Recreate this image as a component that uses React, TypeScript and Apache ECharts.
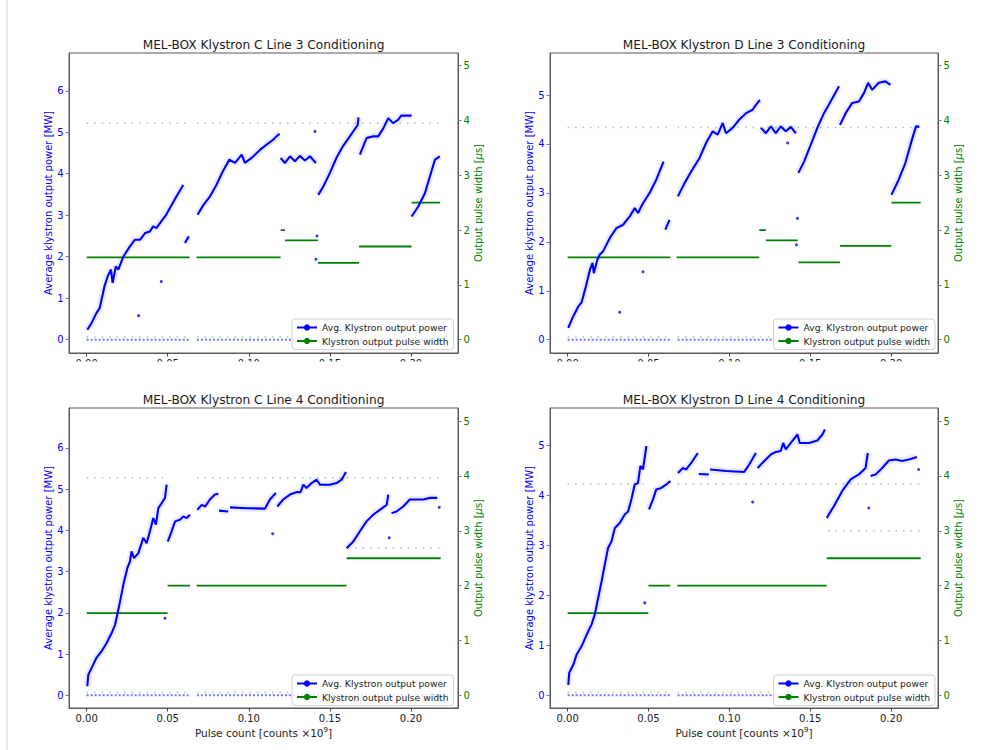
import React, { useEffect, useRef } from "react";
import * as echarts from "echarts";

type Pt = [number, number];
type Step = [number, number, number];

// ---------- data ----------
const xTicks = [0, 0.05, 0.1, 0.15, 0.2];
const powerTicksC = [0, 1, 2, 3, 4, 5, 6];
const powerTicksD = [0, 1, 2, 3, 4, 5];
const widthTicks = [0, 1, 2, 3, 4, 5];

const titles = [
  "MEL-BOX Klystron C Line 3 Conditioning",
  "MEL-BOX Klystron D Line 3 Conditioning",
  "MEL-BOX Klystron C Line 4 Conditioning",
  "MEL-BOX Klystron D Line 4 Conditioning",
];

const c3Power: Pt[][] = [
  [[0.0004, 0.24], [0.003, 0.4], [0.006, 0.64], [0.008, 0.76], [0.011, 1.29], [0.013, 1.53], [0.015, 1.69], [0.016, 1.37], [0.018, 1.77], [0.0195, 1.69], [0.0226, 2.0], [0.0267, 2.25], [0.0298, 2.41], [0.033, 2.41], [0.036, 2.57], [0.039, 2.61], [0.041, 2.73], [0.043, 2.69], [0.046, 2.85], [0.049, 3.01], [0.053, 3.29], [0.0565, 3.53], [0.0596, 3.73]],
  [[0.0606, 2.33], [0.063, 2.49]],
  [[0.0684, 3.01], [0.072, 3.25], [0.076, 3.45], [0.08, 3.73], [0.084, 4.06], [0.088, 4.34], [0.0915, 4.26], [0.0956, 4.46], [0.0976, 4.26], [0.1017, 4.38], [0.107, 4.58], [0.111, 4.7], [0.115, 4.82], [0.117, 4.9], [0.119, 4.96]],
  [[0.1196, 4.38], [0.1223, 4.26], [0.1254, 4.42], [0.1284, 4.3], [0.1315, 4.43], [0.1346, 4.32], [0.1377, 4.42], [0.1414, 4.26]],
  [[0.1428, 3.49], [0.1459, 3.69], [0.15, 4.02], [0.154, 4.38], [0.158, 4.66], [0.1623, 4.9], [0.1672, 5.18], [0.1676, 5.36]],
  [[0.1685, 4.46], [0.1726, 4.86], [0.1767, 4.9], [0.1798, 4.9], [0.183, 5.1], [0.186, 5.34], [0.189, 5.22], [0.192, 5.3], [0.194, 5.4], [0.2004, 5.4]],
  [[0.2004, 2.97], [0.2045, 3.21], [0.2086, 3.53], [0.2117, 3.94], [0.2148, 4.34], [0.2178, 4.42]],
];
const d3Power: Pt[][] = [
  [[0.0004, 0.24], [0.0035, 0.48], [0.0066, 0.68], [0.0086, 0.76], [0.0113, 1.09], [0.0138, 1.43], [0.0154, 1.57], [0.0162, 1.36], [0.0183, 1.63], [0.0199, 1.74], [0.022, 1.81], [0.0261, 2.08], [0.0302, 2.28], [0.0343, 2.35], [0.0384, 2.52], [0.0415, 2.69], [0.0435, 2.59], [0.0466, 2.79], [0.0507, 3.0], [0.0548, 3.27], [0.0593, 3.64]],
  [[0.0604, 2.25], [0.063, 2.45]],
  [[0.0682, 2.93], [0.0723, 3.2], [0.0764, 3.44], [0.0815, 3.71], [0.0856, 4.02], [0.0897, 4.26], [0.0928, 4.19], [0.0959, 4.43], [0.0979, 4.22], [0.102, 4.33], [0.1062, 4.5], [0.1103, 4.63], [0.1144, 4.7], [0.1164, 4.8], [0.1189, 4.9]],
  [[0.1195, 4.33], [0.1226, 4.22], [0.1257, 4.36], [0.1287, 4.22], [0.1318, 4.36], [0.1349, 4.26], [0.138, 4.35], [0.1411, 4.22]],
  [[0.1427, 3.41], [0.1462, 3.64], [0.1503, 3.98], [0.1544, 4.33], [0.1585, 4.63], [0.1626, 4.87], [0.1678, 5.18]],
  [[0.1684, 4.39], [0.1719, 4.63], [0.176, 4.84], [0.1801, 4.87], [0.1832, 5.04], [0.1858, 5.25], [0.1883, 5.11], [0.1924, 5.25], [0.1965, 5.28], [0.1996, 5.21]],
  [[0.2002, 2.96], [0.2047, 3.27], [0.2088, 3.61], [0.2129, 4.09], [0.2154, 4.36], [0.2175, 4.35]],
];
const c4Power: Pt[][] = [
  [[0.0004, 0.22], [0.001, 0.5], [0.003, 0.66], [0.006, 0.91], [0.0092, 1.07], [0.0123, 1.27], [0.0154, 1.51], [0.0175, 1.71], [0.0189, 1.96], [0.0206, 2.28], [0.0226, 2.68], [0.0251, 3.09], [0.0267, 3.25], [0.0277, 3.49], [0.0292, 3.33], [0.0319, 3.45], [0.0349, 3.82], [0.037, 3.69], [0.039, 3.98], [0.0411, 4.3], [0.0427, 4.14], [0.0442, 4.54], [0.0462, 4.66], [0.0483, 4.79], [0.0493, 5.11]],
  [[0.05, 3.73], [0.0524, 3.98], [0.0545, 4.22], [0.0575, 4.26], [0.0596, 4.34], [0.0617, 4.3], [0.0637, 4.38]],
  [[0.0682, 4.5], [0.0709, 4.62], [0.073, 4.58], [0.076, 4.75], [0.0791, 4.87], [0.0812, 4.89]],
  [[0.0816, 4.48], [0.0873, 4.46]],
  [[0.0884, 4.56], [0.0986, 4.54], [0.11, 4.53], [0.113, 4.75], [0.1167, 4.91]],
  [[0.1176, 4.58], [0.1212, 4.75], [0.1254, 4.87], [0.1295, 4.93], [0.1319, 4.93], [0.1336, 5.11], [0.1356, 5.03], [0.1387, 5.15], [0.1418, 5.23], [0.1439, 5.11], [0.15, 5.11], [0.1541, 5.15], [0.1572, 5.23], [0.1599, 5.42]],
  [[0.1603, 3.57], [0.1644, 3.73], [0.1685, 3.98], [0.1726, 4.22], [0.1767, 4.38], [0.1808, 4.5], [0.185, 4.62], [0.186, 4.87]],
  [[0.188, 4.42], [0.1911, 4.46], [0.1952, 4.58], [0.1993, 4.75], [0.2035, 4.75], [0.2076, 4.75], [0.2117, 4.79], [0.2162, 4.79]],
];
const d4Power: Pt[][] = [
  [[0.0004, 0.21], [0.001, 0.45], [0.0035, 0.61], [0.0055, 0.81], [0.0086, 0.98], [0.0117, 1.21], [0.0148, 1.42], [0.0168, 1.62], [0.0189, 1.95], [0.021, 2.28], [0.023, 2.62], [0.025, 2.95], [0.0271, 3.08], [0.0292, 3.35], [0.0322, 3.45], [0.0353, 3.62], [0.0374, 3.68], [0.0394, 3.92], [0.0415, 4.22], [0.0435, 4.25], [0.045, 4.59], [0.0466, 4.52], [0.0487, 4.99]],
  [[0.0503, 3.72], [0.0528, 3.92], [0.0548, 4.12], [0.0579, 4.15], [0.061, 4.22], [0.0635, 4.29]],
  [[0.0682, 4.45], [0.0713, 4.55], [0.0733, 4.52], [0.0764, 4.65], [0.0805, 4.85]],
  [[0.0811, 4.43], [0.0873, 4.42]],
  [[0.0881, 4.52], [0.098, 4.49], [0.1092, 4.47], [0.1123, 4.62], [0.1164, 4.85]],
  [[0.1175, 4.55], [0.1216, 4.69], [0.1257, 4.82], [0.1287, 4.87], [0.1318, 4.89], [0.1333, 5.05], [0.1349, 4.92], [0.138, 5.05], [0.1421, 5.22], [0.1435, 5.05], [0.1493, 5.05], [0.1544, 5.1], [0.1575, 5.22], [0.1591, 5.32]],
  [[0.1602, 3.55], [0.1647, 3.79], [0.1698, 4.09], [0.175, 4.32], [0.1801, 4.42], [0.1842, 4.55], [0.1856, 4.85]],
  [[0.1873, 4.39], [0.1904, 4.42], [0.1945, 4.55], [0.1986, 4.7], [0.2027, 4.72], [0.2068, 4.69], [0.2109, 4.72], [0.216, 4.77]],
];

// isolated power readings
const c3Outliers: Pt[] = [[0.1408, 5.02], [0.1414, 1.94], [0.142, 2.5], [0.032, 0.58], [0.046, 1.4]];
const d3Outliers: Pt[] = [[0.0322, 0.56], [0.0466, 1.39], [0.1421, 2.48], [0.1415, 1.94], [0.136, 4.02]];
const c4Outliers: Pt[] = [[0.0483, 1.87], [0.1866, 3.82], [0.1147, 3.92], [0.2174, 4.56]];
const d4Outliers: Pt[] = [[0.0477, 1.85], [0.1862, 3.75], [0.1144, 3.87], [0.217, 4.52]];

// pulse width steps [xStart, xEnd, width µs]
const c3Width: Step[] = [[0, 0.0635, 1.5], [0.0678, 0.1196, 1.5], [0.1196, 0.1223, 2.0], [0.1223, 0.1426, 1.81], [0.1426, 0.168, 1.4], [0.168, 0.2004, 1.7], [0.2004, 0.218, 2.5]];
const d3Width: Step[] = [[0, 0.0635, 1.5], [0.0674, 0.1185, 1.5], [0.1185, 0.1226, 2.0], [0.1226, 0.1423, 1.81], [0.1427, 0.1684, 1.41], [0.1684, 0.2002, 1.71], [0.2002, 0.2183, 2.5]];
const c4Width: Step[] = [[0, 0.0499, 1.5], [0.0499, 0.0637, 2.0], [0.0678, 0.1603, 2.0], [0.1603, 0.2183, 2.5]];
const d4Width: Step[] = [[0, 0.0499, 1.5], [0.05, 0.0635, 2.0], [0.0678, 0.1602, 2.0], [0.1602, 0.2183, 2.5]];

// sparse pulse-width readings forming faint dotted rows [xStart, xEnd, width µs]
const c3WidthDots: Step[] = [[0, 0.0625, 3.95], [0.068, 0.218, 3.95], [0, 0.0635, 0.05], [0.068, 0.218, 0.05]];
const d3WidthDots: Step[] = [[0, 0.0625, 3.87], [0.068, 0.218, 3.87], [0, 0.0635, 0.05], [0.068, 0.218, 0.05]];
const c4WidthDots: Step[] = [[0, 0.0495, 3.97], [0.068, 0.218, 3.97], [0, 0.0635, 0.05], [0.068, 0.218, 0.05], [0.161, 0.218, 2.69]];
const d4WidthDots: Step[] = [[0, 0.0495, 3.86], [0.068, 0.218, 3.86], [0, 0.0635, 0.05], [0.068, 0.218, 0.05], [0.161, 0.218, 3.0]];

// zero-power readings along the baseline [xStart, xEnd]
const baseSpans: [number, number][] = [[0, 0.0635], [0.068, 0.218]];

// axis ranges
const xRange: [number, number] = [-0.0109, 0.229];
const powerRanges: [number, number][] = [[-0.321, 6.91], [-0.272, 5.86], [-0.307, 6.97], [-0.254, 5.75]];
const widthRanges: [number, number][] = [[-0.243, 5.23], [-0.243, 5.23], [-0.231, 5.24], [-0.231, 5.24]];

// ---------- styling / layout ----------
const BLUE = "#0000ff";
const GREEN = "#008000";
const SPINE = "#5a5a5a";
const FONT = "DejaVu Sans";
const POWER_NAME = "Avg. Klystron output power";
const WIDTH_NAME = "Klystron output pulse width";

const grids = [
  { left: 69, top: 53, width: 389, height: 300 },
  { left: 550, top: 53, width: 388, height: 300 },
  { left: 69, top: 408, width: 389, height: 300 },
  { left: 550, top: 408, width: 388, height: 300 },
];
const legendPos = [
  { left: 292, top: 319 },
  { left: 773.5, top: 319 },
  { left: 292, top: 675 },
  { left: 773.5, top: 675 },
];

const flattenSegs = (segs: Pt[][]) => {
  const out: any[] = [];
  segs.forEach((s, i) => {
    if (i) out.push([null, null]);
    s.forEach((p) => out.push(p));
  });
  return out;
};
const stepData = (steps: Step[]) => {
  const out: any[] = [];
  steps.forEach((s, i) => {
    if (i) out.push([null, null]);
    out.push([s[0], s[2]], [s[1], s[2]]);
  });
  return out;
};

function buildOption() {
  const panels = [
    { power: c3Power, width: c3Width, dots: c3WidthDots, out: c3Outliers, ticks: powerTicksC },
    { power: d3Power, width: d3Width, dots: d3WidthDots, out: d3Outliers, ticks: powerTicksD },
    { power: c4Power, width: c4Width, dots: c4WidthDots, out: c4Outliers, ticks: powerTicksC },
    { power: d4Power, width: d4Width, dots: d4WidthDots, out: d4Outliers, ticks: powerTicksD },
  ];

  const xAxis: any[] = [];
  const yAxis: any[] = [];
  const series: any[] = [];

  panels.forEach((p, i) => {
    const bottomRow = i >= 2;
    xAxis.push({
      type: "value",
      gridIndex: i,
      position: "bottom",
      min: xRange[0],
      max: xRange[1],
      splitLine: { show: false },
      axisLine: { show: true, onZero: false, lineStyle: { color: SPINE, width: 1 } },
      axisTick: { show: true, inside: false, length: 3.5, lineStyle: { color: "#444" }, customValues: xTicks },
      axisLabel: {
        customValues: xTicks,
        formatter: (v: number) => v.toFixed(2),
        color: "#222",
        fontSize: 10,
        fontFamily: FONT,
        margin: 5,
      },
      name: bottomRow ? "{a|Pulse count [counts ×10}{s|9}{a|]}" : "",
      nameLocation: "middle",
      nameGap: 18,
      nameTextStyle: {
        rich: {
          a: { fontSize: 10.5, fontFamily: FONT, color: "#222", lineHeight: 14 },
          s: { fontSize: 7, fontFamily: FONT, color: "#222", verticalAlign: "top", lineHeight: 14, padding: [0, 0, 6, 0] },
        },
      },
    });
    yAxis.push({
      type: "value",
      gridIndex: i,
      position: "left",
      min: powerRanges[i][0],
      max: powerRanges[i][1],
      splitLine: { show: false },
      axisLine: { show: true, onZero: false, lineStyle: { color: SPINE, width: 1 } },
      axisTick: { show: true, inside: false, length: 3.5, lineStyle: { color: "#6a6aff" }, customValues: p.ticks },
      axisLabel: { customValues: p.ticks, color: BLUE, fontSize: 10, fontFamily: FONT, margin: 5.5, formatter: (v: number) => String(Math.round(v)) },
      name: "Average klystron output power [MW]",
      nameLocation: "middle",
      nameGap: 12.5,
      nameRotate: 90,
      nameTextStyle: { color: BLUE, fontSize: 10, fontFamily: FONT },
    });
    yAxis.push({
      type: "value",
      gridIndex: i,
      position: "right",
      min: widthRanges[i][0],
      max: widthRanges[i][1],
      splitLine: { show: false },
      axisLine: { show: true, onZero: false, lineStyle: { color: SPINE, width: 1 } },
      axisTick: { show: true, inside: false, length: 3.5, lineStyle: { color: "#4a9a4a" }, customValues: widthTicks },
      axisLabel: { customValues: widthTicks, color: GREEN, fontSize: 10, fontFamily: FONT, margin: 5.5, formatter: (v: number) => String(Math.round(v)) },
      name: "{a|Output pulse width [}{b|μ}{a|s]}",
      nameLocation: "middle",
      nameGap: 14,
      nameRotate: 90,
      nameTextStyle: {
        rich: {
          a: { color: GREEN, fontSize: 10, fontFamily: FONT },
          b: { color: GREEN, fontSize: 10, fontFamily: FONT, fontStyle: "italic" },
        },
      },
    });

    const yp = 2 * i;
    const yw = 2 * i + 1;

    // faint halo around the dense power readings
    series.push({
      type: "line",
      name: "halo",
      xAxisIndex: i,
      yAxisIndex: yp,
      data: flattenSegs(p.power),
      symbol: "none",
      lineStyle: { color: BLUE, width: 7, opacity: 0.08 },
      z: 1,
      silent: true,
    });
    // zero baseline readings
    const baseData: any[] = [];
    baseSpans.forEach((s, k) => {
      if (k) baseData.push([null, null]);
      baseData.push([s[0], 0], [s[1], 0]);
    });
    series.push({
      type: "line",
      name: "baseline",
      xAxisIndex: i,
      yAxisIndex: yp,
      data: baseData,
      symbol: "none",
      lineStyle: { color: BLUE, width: 2, type: [2, 2], opacity: 0.55 },
      z: 2,
      silent: true,
    });
    // sparse width dots
    series.push({
      type: "line",
      name: "widthDots",
      xAxisIndex: i,
      yAxisIndex: yw,
      data: stepData(p.dots),
      symbol: "none",
      lineStyle: { color: GREEN, width: 1.5, type: [1.5, 6], opacity: 0.4 },
      z: 2,
      silent: true,
    });
    series.push({
      type: "line",
      name: WIDTH_NAME,
      xAxisIndex: i,
      yAxisIndex: yw,
      data: stepData(p.width),
      symbol: "circle",
      symbolSize: 6,
      showSymbol: false,
      lineStyle: { color: GREEN, width: 1.8 },
      itemStyle: { color: GREEN },
      z: 3,
      silent: true,
    });
    series.push({
      type: "line",
      name: POWER_NAME,
      xAxisIndex: i,
      yAxisIndex: yp,
      data: flattenSegs(p.power),
      symbol: "circle",
      symbolSize: 6,
      showSymbol: false,
      lineStyle: { color: BLUE, width: 2.1 },
      itemStyle: { color: BLUE },
      z: 4,
      silent: true,
    });
    series.push({
      type: "scatter",
      name: "outliers",
      xAxisIndex: i,
      yAxisIndex: yp,
      data: p.out,
      symbolSize: 3,
      itemStyle: { color: BLUE, opacity: 0.8 },
      z: 4,
      silent: true,
    });
  });

  const legend = legendPos.map((lp) => ({
    data: [POWER_NAME, WIDTH_NAME],
    left: lp.left,
    top: lp.top,
    orient: "vertical",
    itemWidth: 20,
    itemHeight: 8,
    itemGap: 2.5,
    padding: [3, 5, 3, 4],
    backgroundColor: "rgba(255,255,255,0.85)",
    borderColor: "#d0d0d0",
    borderWidth: 1,
    borderRadius: 3,
    selectedMode: false,
    textStyle: { fontSize: 9.2, fontFamily: FONT, color: "#222", lineHeight: 11 },
    z: 10,
  }));

  const graphic: any[] = [
    { type: "line", shape: { x1: 7, y1: 0, x2: 7, y2: 750 }, style: { stroke: "#d4d4d4", lineWidth: 1 }, z: 100 },
    { type: "rect", shape: { x: 55, y: 361.5, width: 428, height: 22 }, style: { fill: "#ffffff" }, z: 100 },
    { type: "rect", shape: { x: 535, y: 361.5, width: 428, height: 22 }, style: { fill: "#ffffff" }, z: 100 },
  ];
  grids.forEach((g, i) => {
    graphic.push({
      type: "text",
      x: g.left + g.width / 2,
      y: g.top - 8.5,
      style: { text: titles[i], align: "center", verticalAlign: "middle", fontSize: 12.2, fontFamily: FONT, fill: "#1a1a1a" },
      z: 100,
    });
  });

  return {
    animation: false,
    backgroundColor: "#ffffff",
    textStyle: { fontFamily: FONT },
    grid: grids.map((g) => ({ ...g, show: true, borderColor: SPINE, borderWidth: 1, backgroundColor: "transparent" })),
    xAxis,
    yAxis,
    legend,
    series,
    graphic,
  };
}

export default function App() {
  const ref = useRef<HTMLDivElement>(null);
  useEffect(() => {
    if (!ref.current) return;
    const chart = echarts.init(ref.current, undefined, { renderer: "svg" });
    chart.setOption(buildOption() as any);
    return () => chart.dispose();
  }, []);
  return (
    <div
      ref={ref}
      style={{ position: "absolute", left: 0, top: 0, width: 988, height: 750, background: "#fff" }}
    />
  );
}
